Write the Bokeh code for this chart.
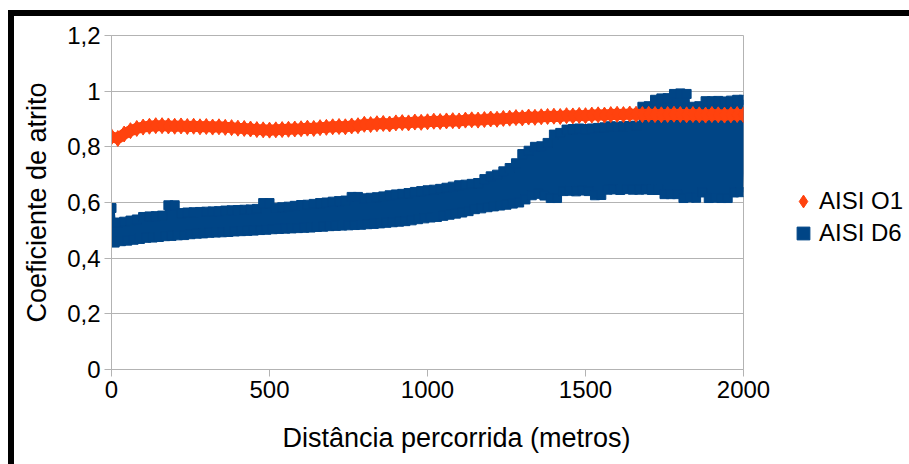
from bokeh.plotting import figure
from bokeh.models import Range1d, FixedTicker, Legend, LegendItem, Title
from bokeh.embed import file_html
from bokeh.resources import INLINE

# ---------------- data ----------------
x_ticks = [0, 500, 1000, 1500, 2000]
y_ticks = [0, 0.2, 0.4, 0.6, 0.8, 1, 1.2]
y_tick_labels = ["0", "0,2", "0,4", "0,6", "0,8", "1", "1,2"]

series_names = ["AISI O1", "AISI D6"]
series_colors = ["#ff420e", "#004586"]

# AISI O1 (sampled every 20 m)
o1_x = list(range(0, 2001, 20))
o1_y = [
    0.836, 0.830, 0.846, 0.858, 0.866, 0.871, 0.874, 0.876, 0.876, 0.875,
    0.874, 0.875, 0.873, 0.874, 0.872, 0.873, 0.871, 0.872, 0.870, 0.869,
    0.867, 0.866, 0.864, 0.862, 0.861, 0.860, 0.861, 0.862, 0.863, 0.864,
    0.865, 0.867, 0.866, 0.869, 0.870, 0.872, 0.873, 0.872, 0.875, 0.876,
    0.881, 0.880, 0.883, 0.884, 0.882, 0.886, 0.887, 0.886, 0.889, 0.888,
    0.890, 0.892, 0.891, 0.893, 0.894, 0.893, 0.896, 0.897, 0.896, 0.898,
    0.900, 0.899, 0.902, 0.903, 0.905, 0.904, 0.907, 0.906, 0.908, 0.909,
    0.910, 0.909, 0.912, 0.911, 0.913, 0.912, 0.914, 0.915, 0.914, 0.916,
    0.917, 0.916, 0.918, 0.917, 0.916, 0.917, 0.916, 0.915, 0.916, 0.917,
    0.916, 0.915, 0.916, 0.915, 0.914, 0.916, 0.915, 0.914, 0.915, 0.916,
    0.915,
]

# AISI D6 (sampled every 10 m, strongly oscillating)
d6_x = list(range(0, 2001, 10))
d6_y = [
    0.580, 0.456, 0.528, 0.461, 0.531, 0.463, 0.535, 0.466, 0.539, 0.469,
    0.548, 0.473, 0.550, 0.474, 0.551, 0.476, 0.553, 0.479, 0.590, 0.480,
    0.590, 0.482, 0.562, 0.483, 0.564, 0.486, 0.565, 0.488, 0.566, 0.489,
    0.567, 0.491, 0.568, 0.492, 0.569, 0.493, 0.571, 0.494, 0.572, 0.496,
    0.573, 0.497, 0.574, 0.498, 0.575, 0.499, 0.577, 0.501, 0.598, 0.502,
    0.598, 0.504, 0.581, 0.505, 0.583, 0.506, 0.585, 0.507, 0.588, 0.508,
    0.591, 0.509, 0.592, 0.510, 0.595, 0.512, 0.598, 0.513, 0.600, 0.515,
    0.603, 0.516, 0.605, 0.517, 0.607, 0.518, 0.620, 0.519, 0.620, 0.520,
    0.615, 0.522, 0.617, 0.523, 0.619, 0.525, 0.622, 0.527, 0.626, 0.529,
    0.629, 0.531, 0.631, 0.533, 0.634, 0.536, 0.638, 0.540, 0.641, 0.543,
    0.644, 0.546, 0.646, 0.548, 0.649, 0.552, 0.653, 0.556, 0.657, 0.560,
    0.662, 0.564, 0.664, 0.569, 0.667, 0.576, 0.670, 0.579, 0.684, 0.583,
    0.694, 0.586, 0.700, 0.589, 0.712, 0.592, 0.724, 0.596, 0.741, 0.600,
    0.774, 0.611, 0.786, 0.626, 0.800, 0.631, 0.802, 0.625, 0.814, 0.616,
    0.844, 0.616, 0.850, 0.641, 0.862, 0.642, 0.864, 0.640, 0.866, 0.643,
    0.864, 0.641, 0.866, 0.626, 0.868, 0.627, 0.870, 0.646, 0.874, 0.647,
    0.872, 0.645, 0.874, 0.648, 0.875, 0.646, 0.876, 0.646, 0.944, 0.647,
    0.946, 0.645, 0.969, 0.645, 0.974, 0.630, 0.975, 0.630, 0.990, 0.630,
    0.992, 0.616, 0.990, 0.618, 0.944, 0.617, 0.946, 0.636, 0.964, 0.616,
    0.964, 0.617, 0.965, 0.616, 0.963, 0.616, 0.966, 0.636, 0.969, 0.637,
    0.969,
]

x_title = "Distância percorrida (metros)"
y_title = "Coeficiente de atrito"

# ---------------- figure ----------------
FONT = "Liberation Sans"
GRID = "#b3b3b3"

p = figure(
    frame_width=632, frame_height=334,
    min_border_left=97, min_border_right=156,
    min_border_top=19, min_border_bottom=85,
    x_range=Range1d(0, 2000), y_range=Range1d(0, 1.2),
    output_backend="svg", toolbar_location=None,
)
p.styles = {"border-left": "6px solid black", "border-top": "6px solid black",
            "margin-left": "8px", "margin-top": "10px"}

p.outline_line_color = GRID
p.xgrid.visible = False
p.ygrid.grid_line_color = GRID
p.ygrid.grid_line_width = 1
p.ygrid.ticker = FixedTicker(ticks=y_ticks)

for ax in (p.xaxis[0], p.yaxis[0]):
    ax.axis_line_color = GRID
    ax.major_tick_line_color = GRID
    ax.major_tick_in = 0
    ax.major_tick_out = 7
    ax.minor_tick_line_color = None
    ax.major_label_text_font = FONT
    ax.major_label_text_font_size = "24px"
    ax.major_label_text_color = "black"
    ax.major_label_standoff = 4

p.xaxis.ticker = FixedTicker(ticks=x_ticks)
p.yaxis.ticker = FixedTicker(ticks=y_ticks)
p.yaxis.major_label_overrides = dict(zip(y_ticks, y_tick_labels))

p.yaxis.axis_label = y_title
p.yaxis.axis_label_text_font = FONT
p.yaxis.axis_label_text_font_size = "27px"
p.yaxis.axis_label_text_font_style = "normal"
p.yaxis.axis_label_text_color = "black"
p.yaxis.axis_label_standoff = 12

t = Title(text=x_title, align="left", offset=171, standoff=40,
          text_font=FONT, text_font_size="27px", text_font_style="normal",
          text_color="black")
p.add_layout(t, "below")

# D6 (blue) first, O1 (orange) on top
d6_line = p.line(d6_x, d6_y, line_color=series_colors[1], line_width=6)
d6_pts = p.scatter(d6_x, d6_y, marker="square", size=9,
                   fill_color=series_colors[1], line_color=series_colors[1])
o1_line = p.line(o1_x, o1_y, line_color=series_colors[0], line_width=11)
o1_pts = p.scatter(o1_x, o1_y, marker="diamond", size=16,
                   fill_color=series_colors[0], line_color=series_colors[0])

legend = Legend(items=[
    LegendItem(label=series_names[0], renderers=[o1_pts]),
    LegendItem(label=series_names[1], renderers=[d6_pts]),
])
legend.border_line_color = None
legend.background_fill_alpha = 0
legend.label_text_font = FONT
legend.label_text_font_size = "24px"
legend.label_text_color = "black"
legend.glyph_width = 32
legend.glyph_height = 32
legend.label_height = 32
legend.spacing = 0
legend.label_standoff = 0
legend.padding = 10
legend.margin = 0
legend.location = (44, 120)
p.add_layout(legend, "right")

open("out.html", "w").write(file_html(p, INLINE))
